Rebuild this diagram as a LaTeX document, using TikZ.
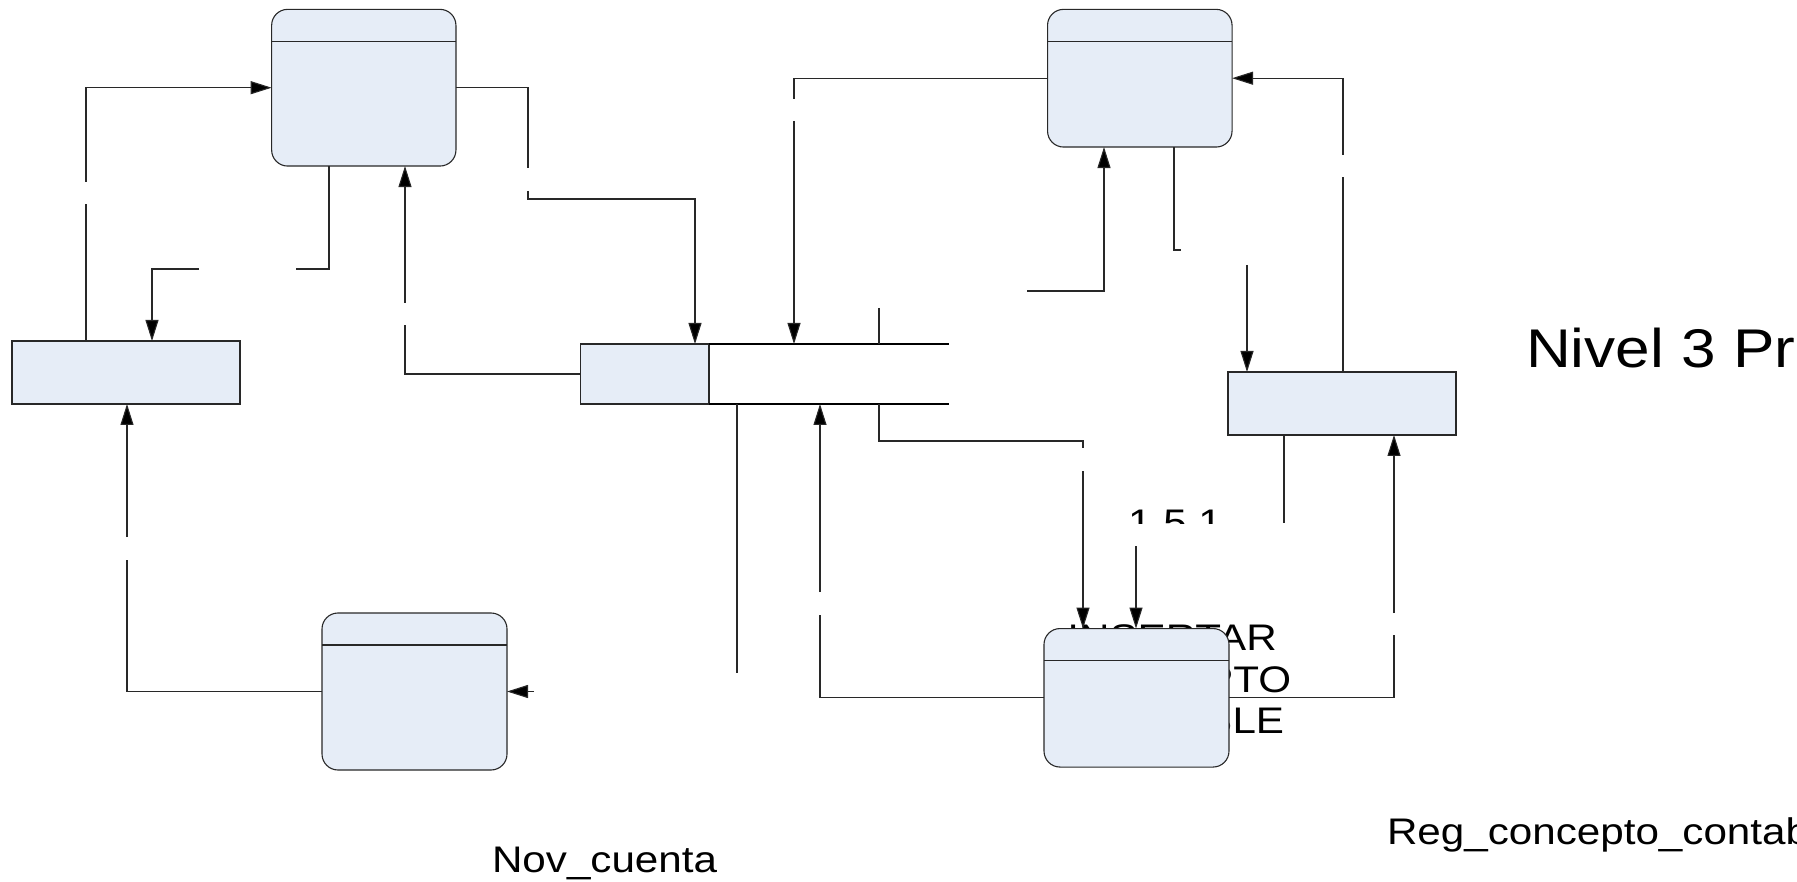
\documentclass[tikz,border=0pt]{standalone}
\usepackage{graphicx}
\usepackage{fontspec}
\setmainfont{Liberation Sans}
\usetikzlibrary{arrows.meta}
\definecolor{boxfill}{RGB}{230,237,247}
\definecolor{ln}{RGB}{40,40,40}
\tikzset{
  conn/.style={draw=ln, line width=1.1pt},
  arr/.style={conn, -{Triangle[length=21pt,width=13pt,fill=black]}},
  storebox/.style={draw=ln, fill=boxfill, rounded corners=16pt, line width=1.1pt, inner sep=0pt, outer sep=0pt},
  procbox/.style={draw=ln, fill=boxfill, line width=1.1pt, inner sep=0pt, outer sep=0pt},
  lbl/.style={inner sep=0pt, outer sep=0pt, font=\fontsize{37}{42}\selectfont},
  bigl/.style={inner sep=0pt, outer sep=0pt, font=\fontsize{54.5}{60}\selectfont}
}
\begin{document}
\begin{tikzpicture}[x=1pt,y=-1pt]
\useasboundingbox (0,0) rectangle (1797,882);
% hidden process text (behind the box)
\node[lbl, anchor=base] (t1) at (1172,650) {\scalebox{1.14}[1]{INSERTAR}};
\node[lbl, anchor=base] (t2) at (1172,692) {\scalebox{1.14}[1]{CONCEPTO}};
\node[lbl, anchor=base] (t3) at (1172,733) {\scalebox{1.14}[1]{CONTABLE}};
\begin{scope}
\clip (1080,480) rectangle (1280,523);
\node[lbl, anchor=base] (num) at (1175,535) {\scalebox{1.14}[1]{1.5.1}};
\end{scope}
% boxes
\node[storebox, minimum width=184.3pt, minimum height=156.7pt] (TL) at (363.8,87.7) {};
\node[storebox, minimum width=184.5pt, minimum height=137.7pt] (TR) at (1139.8,78.2) {};
\node[storebox, minimum width=185pt, minimum height=157pt] (BL) at (414.5,691.5) {};
\node[storebox, minimum width=185pt, minimum height=138.5pt] (BR) at (1136.5,697.8) {};
\foreach \b in {TL,TR,BL,BR}{
  \draw[conn] ([yshift=-32pt]\b.north west) -- ([yshift=-32pt]\b.north east);
}
\node[procbox, minimum width=228pt, minimum height=63pt] (L) at (126,372.5) {};
\node[procbox, minimum width=228pt, minimum height=63pt] (R) at (1342,403.5) {};
\node[procbox, minimum width=128.3pt, minimum height=60pt] (D) at (644.85,374) {};
\coordinate (Dte) at (949,344);
\coordinate (Dbe) at (949,404);
\draw[conn, draw=black] (D.north east) -- (Dte);
\draw[conn, draw=black] (D.south east) -- (Dbe);
% connectors
\draw[conn] (86,0 |- L.north) -- (86,204);
\draw[arr] (86,182) |- (TL.west);
\draw[conn] (329,0 |- TL.south) |- (296,269);
\draw[arr] (199,269) -| (152,0 |- L.north);
\draw[conn] (BL.west) -| (127,560);
\draw[arr] (127,537) -- (127,0 |- L.south);
\draw[arr] (534,0 |- BL.east) -- (BL.east);
\draw[conn] (TL.east) -| (528,168);
\draw[arr] (528,191) |- (695,199) -- (695,0 |- D.north);
\draw[conn] (D.west) -| (405,325);
\draw[arr] (405,303) -- (405,0 |- TL.south);
\draw[conn] (TR.west) -| (794,99);
\draw[arr] (794,121) -- (794,0 |- D.north);
\draw[conn] (879,308) -- (879,0 |- D.north);
\draw[conn] (737,0 |- D.south) -- (737,673);
\draw[conn] (BR.west) -| (820,615);
\draw[arr] (820,592) -- (820,0 |- D.south);
\draw[conn] (879,0 |- D.south) |- (1083,441) -- (1083,448);
\draw[arr] (1083,471) -- (1083,0 |- BR.north);
\draw[arr] (1136,546) -- (1136,0 |- BR.north);
\draw[arr] (1027,291) -| (1104,0 |- TR.south);
\draw[conn] (1174,0 |- TR.south) |- (1181,250);
\draw[arr] (1247,265) -- (1247,0 |- R.north);
\draw[conn] (1343,0 |- R.north) -- (1343,177);
\draw[arr] (1343,155) |- (TR.east);
\draw[conn] (1284,0 |- R.south) -- (1284,523);
\draw[conn] (BR.east) -| (1394,635);
\draw[arr] (1394,613) -- (1394,0 |- R.south);
% labels
\node[bigl, anchor=base west] (title) at (1526,368) {\scalebox{1.14}[1]{Nivel 3 Pr}};
\node[lbl, anchor=base west] (reg) at (1387,844) {\scalebox{1.14}[1]{Reg\_concepto\_contab}};
\node[lbl, anchor=base west] (nov) at (492,872) {\scalebox{1.14}[1]{Nov\_cuenta}};
\end{tikzpicture}
\end{document}
